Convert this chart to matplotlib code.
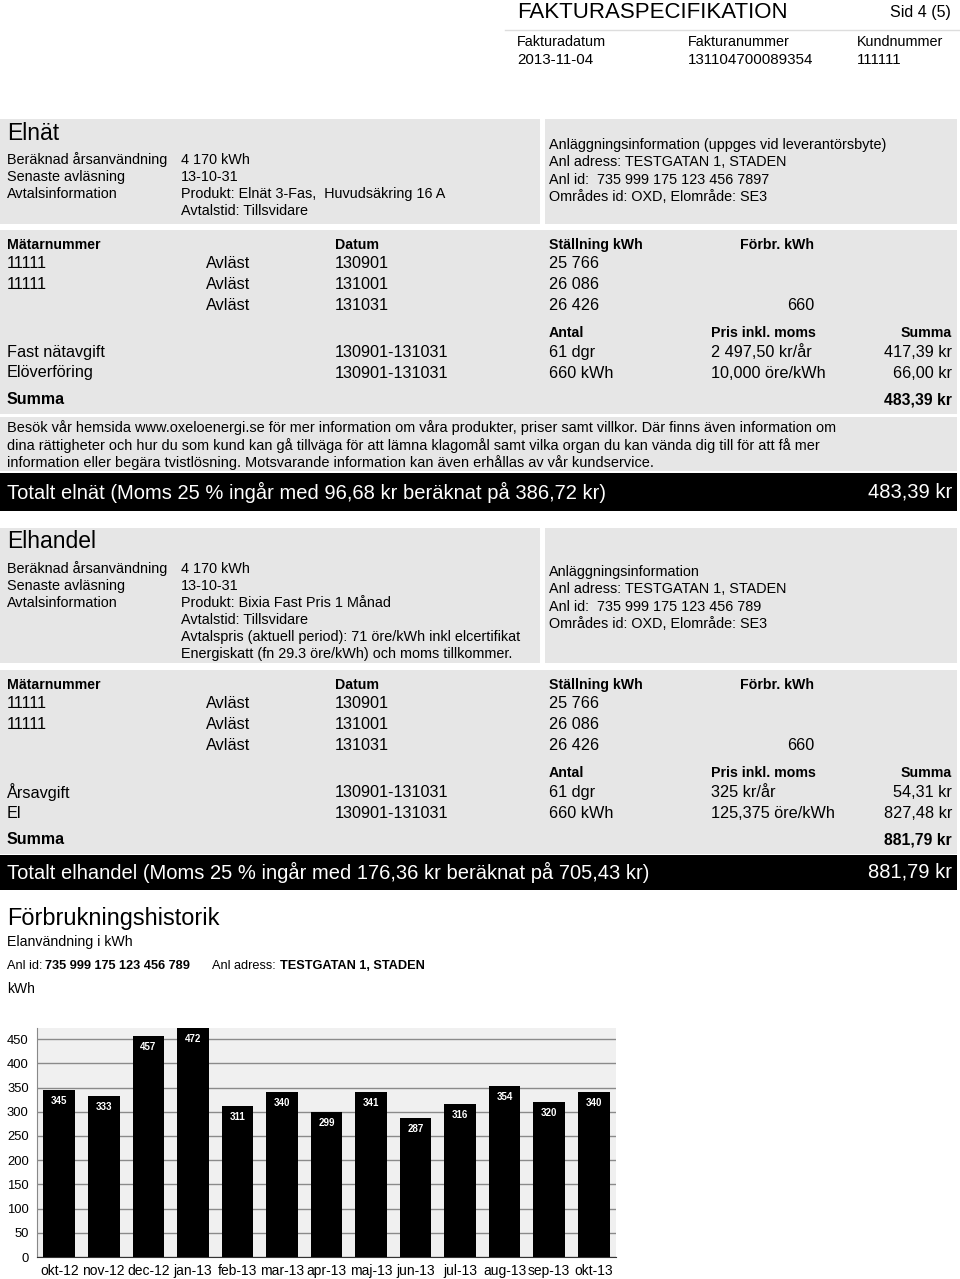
import matplotlib
matplotlib.use("Agg")
import matplotlib.pyplot as plt
from matplotlib.patches import Rectangle

plt.rcParams['font.family'] = ['Liberation Sans', 'DejaVu Sans']

W, H = 960, 1279
fig = plt.figure(figsize=(W / 100, H / 100), dpi=100)
fig.patch.set_facecolor('white')

# ---------------- data ----------------
header_title = "FAKTURASPECIFIKATION"
header_page = "Sid 4 (5)"
header_fields = ["Fakturadatum", "Fakturanummer", "Kundnummer"]
header_values = ["2013-11-04", "131104700089354", "111111"]

info_labels = ["Beräknad årsanvändning", "Senaste avläsning", "Avtalsinformation"]

elnat_values = ["4 170 kWh", "13-10-31", "Produkt: Elnät 3-Fas,  Huvudsäkring 16 A",
                "Avtalstid: Tillsvidare"]
elnat_anl = ["Anläggningsinformation (uppges vid leverantörsbyte)",
             "Anl adress: TESTGATAN 1, STADEN",
             "Anl id:  735 999 175 123 456 7897",
             "Områdes id: OXD, Elområde: SE3"]

meter_header = ["Mätarnummer", "Datum", "Ställning kWh", "Förbr. kWh"]
meter_ids = ["11111", "11111", ""]
meter_status = ["Avläst", "Avläst", "Avläst"]
meter_dates = ["130901", "131001", "131031"]
meter_readings = ["25 766", "26 086", "26 426"]
meter_cons = ["", "", "660"]

cost_header = ["Antal", "Pris inkl. moms", "Summa"]
elnat_items = ["Fast nätavgift", "Elöverföring"]
elnat_periods = ["130901-131031", "130901-131031"]
elnat_qty = ["61 dgr", "660 kWh"]
elnat_price = ["2 497,50 kr/år", "10,000 öre/kWh"]
elnat_sum = ["417,39 kr", "66,00 kr"]
elnat_total = "483,39 kr"

info_paragraph = [
    "Besök vår hemsida www.oxeloenergi.se för mer information om våra produkter, priser samt villkor. Där finns även information om",
    "dina rättigheter och hur du som kund kan gå tillväga för att lämna klagomål samt vilka organ du kan vända dig till för att få mer",
    "information eller begära tvistlösning. Motsvarande information kan även erhållas av vår kundservice.",
]
elnat_total_text = "Totalt elnät (Moms 25 % ingår med 96,68 kr beräknat på 386,72 kr)"

elhandel_values = ["4 170 kWh", "13-10-31", "Produkt: Bixia Fast Pris 1 Månad",
                   "Avtalstid: Tillsvidare",
                   "Avtalspris (aktuell period): 71 öre/kWh inkl elcertifikat",
                   "Energiskatt (fn 29.3 öre/kWh) och moms tillkommer."]
elhandel_anl = ["Anläggningsinformation",
                "Anl adress: TESTGATAN 1, STADEN",
                "Anl id:  735 999 175 123 456 789",
                "Områdes id: OXD, Elområde: SE3"]
elhandel_items = ["Årsavgift", "El"]
elhandel_periods = ["130901-131031", "130901-131031"]
elhandel_qty = ["61 dgr", "660 kWh"]
elhandel_price = ["325 kr/år", "125,375 öre/kWh"]
elhandel_sum = ["54,31 kr", "827,48 kr"]
elhandel_total = "881,79 kr"
elhandel_total_text = "Totalt elhandel (Moms 25 % ingår med 176,36 kr beräknat på 705,43 kr)"

hist_title = "Förbrukningshistorik"
hist_sub = "Elanvändning i kWh"
hist_anl_id = "735 999 175 123 456 789"
hist_anl_adr = "TESTGATAN 1, STADEN"
hist_unit = "kWh"

months = ["okt-12", "nov-12", "dec-12", "jan-13", "feb-13", "mar-13", "apr-13",
          "maj-13", "jun-13", "jul-13", "aug-13", "sep-13", "okt-13"]
usage = [345, 333, 457, 472, 311, 340, 299, 341, 287, 316, 354, 320, 340]
y_ticks = [0, 50, 100, 150, 200, 250, 300, 350, 400, 450]

# ---------------- helpers ----------------
BOX = '#e6e6e6'
BODY = 10.4
ROW = 11.7
HEAD = 10.2


def fx(x):
    return x / W


def fy(y):
    return 1 - y / H


def txt(x, y, s, size=BODY, ha='left', weight='normal', color='black'):
    fig.text(fx(x), fy(y), s, fontsize=size, ha=ha, va='center',
             fontweight=weight, color=color)


def box(x0, y0, x1, y1, color=BOX):
    fig.patches.append(Rectangle((fx(x0), fy(y1)), (x1 - x0) / W, (y1 - y0) / H,
                                 transform=fig.transFigure, facecolor=color,
                                 edgecolor='none', zorder=0))


# ---------------- header ----------------
txt(517, 12, header_title, size=16)
txt(951, 13, header_page, size=11.5, ha='right')
fig.lines.append(plt.Line2D([fx(505), fx(960)], [fy(30), fy(30)],
                            transform=fig.transFigure, color='#dddddd', lw=1))
for i, (f, v) in enumerate(zip(header_fields, header_values)):
    x = [517, 688, 857][i]
    txt(x, 42, f, size=10.4)
    txt(x, 60, v, size=10.9)


def info_section(top, title, values, anl, anl_y0):
    h = 105 if len(values) == 4 else 135
    box(0, top, 540, top + h)
    box(545, top, 957, top + h)
    txt(7, top + 14, title, size=16.5)
    for i, lab in enumerate(info_labels):
        txt(7, top + 41 + i * 17, lab)
    for i, v in enumerate(values):
        txt(181, top + 41 + i * 17, v)
    for i, a in enumerate(anl):
        txt(549, anl_y0 + i * 17.4, a)


def meter_section(top, items, periods, qty, price, sums, total):
    box(0, top, 957, top + 184)
    hy = top + 15
    txt(7, hy, meter_header[0], size=HEAD, weight='bold')
    txt(335, hy, meter_header[1], size=HEAD, weight='bold')
    txt(549, hy, meter_header[2], size=HEAD, weight='bold')
    txt(814, hy, meter_header[3], size=HEAD, weight='bold', ha='right')
    for i in range(3):
        y = hy + 19 + i * 20.5
        txt(7, y, meter_ids[i], size=ROW)
        txt(206, y, meter_status[i], size=ROW)
        txt(335, y, meter_dates[i], size=ROW)
        txt(549, y, meter_readings[i], size=ROW)
        txt(814, y, meter_cons[i], size=ROW, ha='right')
    cy = hy + 88
    txt(549, cy, cost_header[0], size=HEAD, weight='bold')
    txt(711, cy, cost_header[1], size=HEAD, weight='bold')
    txt(952, cy, cost_header[2], size=HEAD, weight='bold', ha='right')
    for i in range(2):
        y = cy + 19.5 + i * 20.5
        txt(7, y, items[i], size=ROW)
        txt(335, y, periods[i], size=ROW)
        txt(549, y, qty[i], size=ROW)
        txt(711, y, price[i], size=ROW)
        txt(952, y, sums[i], size=ROW, ha='right')
    txt(7, cy + 67, "Summa", size=11.5, weight='bold')
    txt(952, cy + 67, total, size=11.3, weight='bold', ha='right')


def total_bar(top, bottom, text, total):
    box(0, top, 957, bottom, color='black')
    y = (top + bottom) / 2
    txt(7, y, text, size=14.5, color='white')
    txt(952, y, total, size=14.5, color='white', ha='right')


# ---------------- Elnät ----------------
info_section(119, "Elnät", elnat_values, elnat_anl, 145)
meter_section(230, elnat_items, elnat_periods, elnat_qty, elnat_price, elnat_sum, elnat_total)
box(0, 417, 957, 471)
for i, line in enumerate(info_paragraph):
    txt(7, 428 + i * 17.5, line, size=10.45)
total_bar(473, 511, elnat_total_text, elnat_total)

# ---------------- Elhandel ----------------
info_section(528, "Elhandel", elhandel_values, elhandel_anl, 572)
meter_section(670, elhandel_items, elhandel_periods, elhandel_qty, elhandel_price,
              elhandel_sum, elhandel_total)
total_bar(855, 890, elhandel_total_text, elhandel_total)

# ---------------- Förbrukningshistorik ----------------
txt(7, 919, hist_title, size=16.9)
txt(7, 942, hist_sub, size=10.2)
txt(7, 966, "Anl id:", size=9.2)
txt(45, 966, hist_anl_id, size=9.2, weight='bold')
txt(212, 966, "Anl adress:", size=9.2)
txt(280, 966, hist_anl_adr, size=9.2, weight='bold')
txt(7, 989, hist_unit, size=10)

# chart
L, R, T, B = 37, 616, 1028, 1257
ax = fig.add_axes([fx(L), fy(B), (R - L) / W, (B - T) / H])
ax.set_facecolor('#f0f0f0')
xs = list(range(len(months)))
bars = ax.bar(xs, usage, width=0.71, color='black', zorder=3)
for xi, v in zip(xs, usage):
    ax.annotate(str(v), (xi, v), xytext=(0, -11), textcoords='offset pixels',
                ha='center', va='center', color='white', fontsize=7,
                fontweight='bold', zorder=4)
ax.set_xlim(-0.5, len(months) - 0.5)
ax.set_ylim(0, 473)
ax.set_yticks(y_ticks)
ax.set_yticklabels([str(t) for t in y_ticks], fontsize=9.4)
ax.set_xticks(xs)
ax.set_xticklabels(months, fontsize=10)
ax.tick_params(axis='both', length=0, pad=6)
ax.tick_params(axis='x', pad=5)
ax.yaxis.grid(True, color='#8a8a8a', linewidth=1, zorder=1)
ax.set_axisbelow(True)
for s in ['top', 'right']:
    ax.spines[s].set_visible(False)
ax.spines['left'].set_color('#888888')
ax.spines['bottom'].set_color('#333333')

fig.savefig('out.png', dpi=100)
